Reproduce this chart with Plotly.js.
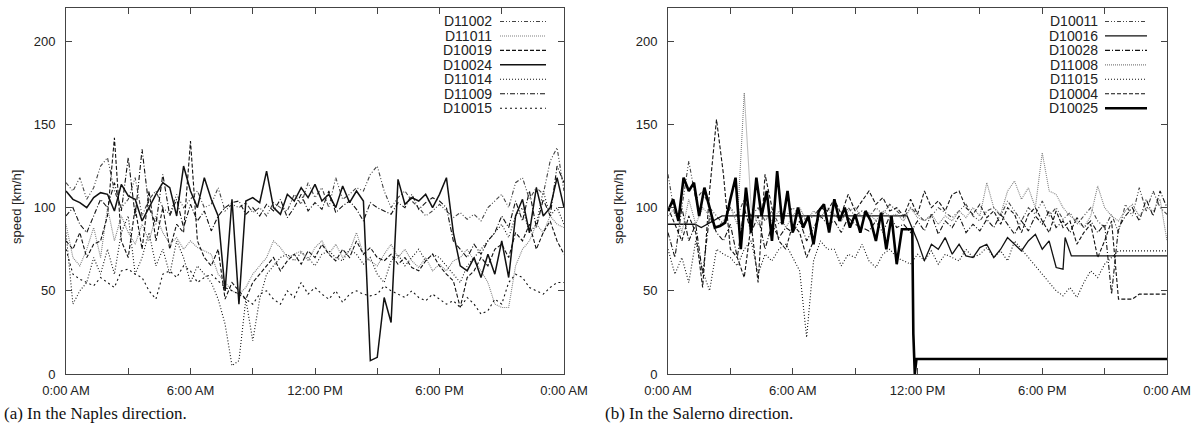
<!DOCTYPE html>
<html><head><meta charset="utf-8">
<script src="https://cdn.plot.ly/plotly-3.0.1.min.js"></script>
<style>html,body{margin:0;padding:0;background:#fff}#chart{width:1195px;height:427px}</style>
</head><body><div id="chart"></div>
<script>
// ---------- DATA ----------
const TICK_VALS = [0,3,6,9,12,15,18,21,24];
const TICK_TEXT = ['0:00 AM','','6:00 AM','','12:00 PM','','6:00 PM','','0:00 AM'];
const Y_TICKS = [0,50,100,150,200];
const Y_TITLE = 'speed [km/h]';
const CAPTION_A = '(a) In the Naples direction.';
const CAPTION_B = '(b) In the Salerno direction.';

// sampling grid: hours of the day, every 20 minutes (0:00 .. 24:00)
const GRID20 = Array.from({length:73}, (_, i) => i / 3);

// Naples direction
const NAPLES_NAMES = ['D11002','D11011','D10019','D10024','D11014','D11009','D10015'];
const D11002 = [115,110,118,105,112,125,130,110,100,105,118,95,105,110,100,96,108,100,105,110,100,102,112,98,102,100,103,97,100,95,103,100,98,108,102,115,106,112,100,118,105,108,112,110,120,125,110,100,106,110,104,100,95,98,102,98,94,97,93,96,92,100,104,108,100,115,118,105,112,108,128,136,110];
const D11011 = [90,70,65,75,88,70,100,80,95,85,78,90,80,95,85,78,82,75,80,76,74,72,60,55,50,48,52,60,65,70,80,76,70,72,74,68,76,80,72,78,70,74,85,72,68,65,72,78,70,75,68,64,70,62,66,62,68,70,75,68,62,55,42,40,40,65,75,80,90,85,95,90,88];
const D10019 = [80,75,85,70,78,80,95,142,80,70,100,75,110,80,100,75,90,85,140,80,70,65,75,45,55,50,45,55,60,65,70,62,68,72,66,74,70,78,72,68,75,70,80,72,76,70,68,72,66,70,64,62,68,72,65,60,56,40,58,62,70,65,75,78,70,85,80,90,75,85,92,80,72];
const D10024 = [110,105,103,100,106,109,108,98,114,107,105,92,100,108,115,112,95,125,110,100,118,105,95,50,105,42,104,106,103,122,100,96,108,104,112,106,114,104,108,100,113,103,110,104,8,10,46,31,117,102,106,104,108,100,108,118,85,65,62,70,58,72,60,80,58,95,105,85,112,95,100,118,100];
const D11014 = [85,42,50,55,70,60,75,60,85,95,60,70,85,65,75,60,80,70,55,65,60,55,45,30,5,8,45,20,45,60,65,70,72,68,73,70,65,72,74,70,68,75,72,66,70,60,55,68,72,65,70,75,68,72,70,65,60,55,65,70,75,80,85,90,82,95,100,85,90,110,95,100,90];
const D11009 = [95,100,90,85,95,105,100,115,98,130,95,135,100,90,120,95,105,88,102,92,98,86,95,100,103,104,96,100,95,102,98,105,94,100,108,98,103,99,110,97,101,104,99,92,103,100,98,96,103,100,108,99,103,106,104,100,80,75,70,78,72,80,85,95,88,104,92,110,88,105,95,125,115];
const D10015 = [75,60,57,55,53,58,55,52,62,63,60,58,50,45,60,62,58,65,62,55,58,60,56,52,50,48,45,42,48,50,45,42,50,46,55,48,52,48,45,50,43,48,50,48,47,48,53,50,48,46,50,46,44,48,45,42,44,40,46,42,36,38,45,42,55,60,58,52,50,48,52,55,55];

// Salerno direction
const SALERNO_NAMES = ['D10011','D10016','D10028','D11008','D11015','D10004','D10025'];
const D10011 = [120,95,100,128,105,110,100,95,90,100,95,105,95,100,92,98,90,95,100,96,92,95,100,98,96,92,100,95,98,94,100,96,102,98,94,100,96,92,95,100,97,94,98,102,95,92,98,100,95,104,98,92,100,96,104,95,100,93,97,90,95,100,92,88,96,85,102,95,112,98,110,100,96];
const D10016_T = [0,1.3,1.6,2.6,11.5,12.0,12.33,12.67,13.0,13.33,13.67,14.0,14.33,14.67,15.0,15.33,15.67,16.0,16.33,16.67,17.0,17.33,17.67,18.0,18.33,18.67,19.0,19.1,19.4,24];
const D10016 = [90,90,88,95,95,80,68,78,75,82,72,78,71,70,76,78,70,75,82,78,74,80,84,75,80,64,63,82,71,71];
const D10028 = [85,70,100,80,90,60,95,85,80,90,70,100,85,95,75,90,82,88,85,92,80,88,95,90,92,85,94,90,88,86,92,85,95,88,90,85,92,86,96,84,92,88,95,85,90,86,93,88,96,90,84,92,86,95,90,98,88,92,85,94,88,92,85,90,48,88,95,100,92,105,95,110,100];
const D11008 = [95,100,85,105,90,100,95,88,92,100,90,169,100,90,95,92,98,88,95,100,92,98,94,100,96,92,98,100,94,97,92,98,95,96,92,100,94,92,96,90,95,92,98,94,100,95,115,100,96,110,116,105,112,100,133,110,108,100,95,92,88,95,113,100,95,92,98,102,95,100,98,105,80];
const D11015 = [75,60,70,55,80,62,50,75,72,70,65,75,80,60,72,68,75,78,70,62,22,68,80,75,75,65,72,70,78,68,64,72,75,70,68,66,72,68,74,66,72,70,68,75,70,72,76,70,74,68,80,75,70,65,60,55,50,47,52,46,55,62,58,66,70,74,74,74,74,74,74,74,74];
const D10004 = [100,90,80,95,85,52,110,153,120,75,70,58,90,55,120,100,80,75,90,85,70,80,100,98,105,96,108,98,104,110,102,106,98,100,95,105,96,110,100,104,98,108,110,100,96,102,94,98,90,100,96,85,96,100,92,85,98,88,92,78,85,90,70,80,92,45,45,45,48,48,48,48,48];
const D10025_T = [0,0.25,0.5,0.75,1,1.25,1.5,1.75,2,2.25,2.5,2.75,3,3.25,3.5,3.75,4,4.25,4.5,4.75,5,5.25,5.5,5.75,6,6.25,6.5,6.75,7,7.25,7.5,7.75,8,8.25,8.5,8.75,9,9.25,9.5,9.75,10,10.25,10.5,10.75,11,11.25,11.5,11.75,11.8,11.87,11.95,24];
const D10025 = [98,105,92,118,110,115,95,112,100,88,89,91,105,118,75,112,85,118,95,110,80,122,90,110,85,100,88,95,78,98,102,85,105,92,100,88,96,85,98,92,80,97,75,95,66,87,87,87,24,0,9,9];

// ---------- STYLES ----------
const ST = {
  dashdotdot: {color:'#444', width:1.1, dash:'4px,2px,1px,2px,1px,2px'},
  finedot:    {color:'#808080', width:1.1, dash:'1px,1px'},
  dash:       {color:'#111', width:1.1, dash:'4px,2px'},
  solid:      {color:'#111', width:1.5, dash:'solid'},
  dot:        {color:'#111', width:1.1, dash:'1px,2px'},
  dashdot:    {color:'#111', width:1.1, dash:'5px,2px,1px,2px'},
  sparsedot:  {color:'#111', width:1.1, dash:'2px,3px'},
  thick:      {color:'#000', width:2.6, dash:'solid'}
};

const naplesSeries = [
  {x:GRID20, y:D11002, s:ST.dashdotdot},
  {x:GRID20, y:D11011, s:ST.finedot},
  {x:GRID20, y:D10019, s:ST.dash},
  {x:GRID20, y:D10024, s:ST.solid},
  {x:GRID20, y:D11014, s:ST.dot},
  {x:GRID20, y:D11009, s:ST.dashdot},
  {x:GRID20, y:D10015, s:ST.sparsedot}
];
const salernoSeries = [
  {x:GRID20, y:D10011, s:ST.dashdotdot},
  {x:D10016_T, y:D10016, s:{color:'#111', width:1.3, dash:'solid'}},
  {x:GRID20, y:D10028, s:ST.dashdot},
  {x:GRID20, y:D11008, s:ST.finedot},
  {x:GRID20, y:D11015, s:ST.dot},
  {x:GRID20, y:D10004, s:ST.dash},
  {x:D10025_T, y:D10025, s:ST.thick}
];

const traces = [];
naplesSeries.forEach((d, i) => traces.push({type:'scatter', mode:'lines', name:NAPLES_NAMES[i], x:d.x, y:d.y, xaxis:'x', yaxis:'y', line:d.s, showlegend:false, hoverinfo:'skip'}));
salernoSeries.forEach((d, i) => traces.push({type:'scatter', mode:'lines', name:SALERNO_NAMES[i], x:d.x, y:d.y, xaxis:'x2', yaxis:'y2', line:d.s, showlegend:false, hoverinfo:'skip'}));

// ---------- LAYOUT ----------
const W = 1195, H = 427;
const px = v => v / W, py = v => 1 - v / H;
const FONT = 'Liberation Sans, Arial, Helvetica, sans-serif';
const SERIF = 'Liberation Serif, DejaVu Serif, serif';

function xAx(domain, anchor){
  return {domain, anchor, range:[0,24], tickvals:TICK_VALS, ticktext:TICK_TEXT, ticks:'inside', ticklen:6, tickcolor:'#444', tickwidth:1,
          showline:true, linecolor:'#444', linewidth:1, mirror:'ticks', showgrid:false, zeroline:false, fixedrange:true,
          ticklabelstandoff:4, tickfont:{family:FONT, size:13, color:'#222'}};
}
function yAx(domain, anchor){
  return {domain, anchor, range:[0,220], tickvals:Y_TICKS, ticks:'inside', ticklen:6, tickcolor:'#444', tickwidth:1,
          showline:true, linecolor:'#444', linewidth:1, mirror:'ticks', showgrid:false, zeroline:false, fixedrange:true,
          ticklabelstandoff:7, tickfont:{family:FONT, size:13, color:'#222'}};
}

const yDom = [py(374), py(8)];
const panels = [
  {names:NAPLES_NAMES, series:naplesSeries, textR:494, s0:500, s1:546, caption:CAPTION_A, capX:2, ytX:16},
  {names:SALERNO_NAMES, series:salernoSeries, textR:1100, s0:1105, s1:1147, caption:CAPTION_B, capX:603, ytX:618}
];

const annotations = [], shapes = [];
panels.forEach(p => {
  p.names.forEach((n, k) => {
    const yy = 21.5 + 14.45 * k;
    annotations.push({xref:'paper', yref:'paper', x:px(p.textR), y:py(yy), xanchor:'right', yanchor:'middle', text:n, showarrow:false, font:{family:FONT, size:14, color:'#222'}});
    const s = p.series[k].s;
    shapes.push({type:'line', xref:'paper', yref:'paper', x0:px(p.s0), x1:px(p.s1), y0:py(yy), y1:py(yy), line:{color:s.color, width:s.width, dash:s.dash}});
  });
  annotations.push({xref:'paper', yref:'paper', x:px(p.ytX), y:py(207), xanchor:'center', yanchor:'middle', textangle:-90, text:Y_TITLE, showarrow:false, font:{family:FONT, size:13, color:'#222'}});
  annotations.push({xref:'paper', yref:'paper', x:px(p.capX), y:py(413), xanchor:'left', yanchor:'middle', text:p.caption, showarrow:false, font:{family:SERIF, size:17, color:'#111'}});
});

const layout = {
  width:W, height:H, margin:{l:0, r:0, t:0, b:0}, paper_bgcolor:'#fff', plot_bgcolor:'#fff',
  showlegend:false, font:{family:FONT, size:13, color:'#222'},
  xaxis: xAx([px(66), px(564)], 'y'),
  yaxis: yAx(yDom, 'x'),
  xaxis2: xAx([px(668), px(1167)], 'y2'),
  yaxis2: yAx(yDom, 'x2'),
  annotations, shapes
};

Plotly.newPlot('chart', traces, layout, {staticPlot:true, displayModeBar:false});
</script></body></html>
